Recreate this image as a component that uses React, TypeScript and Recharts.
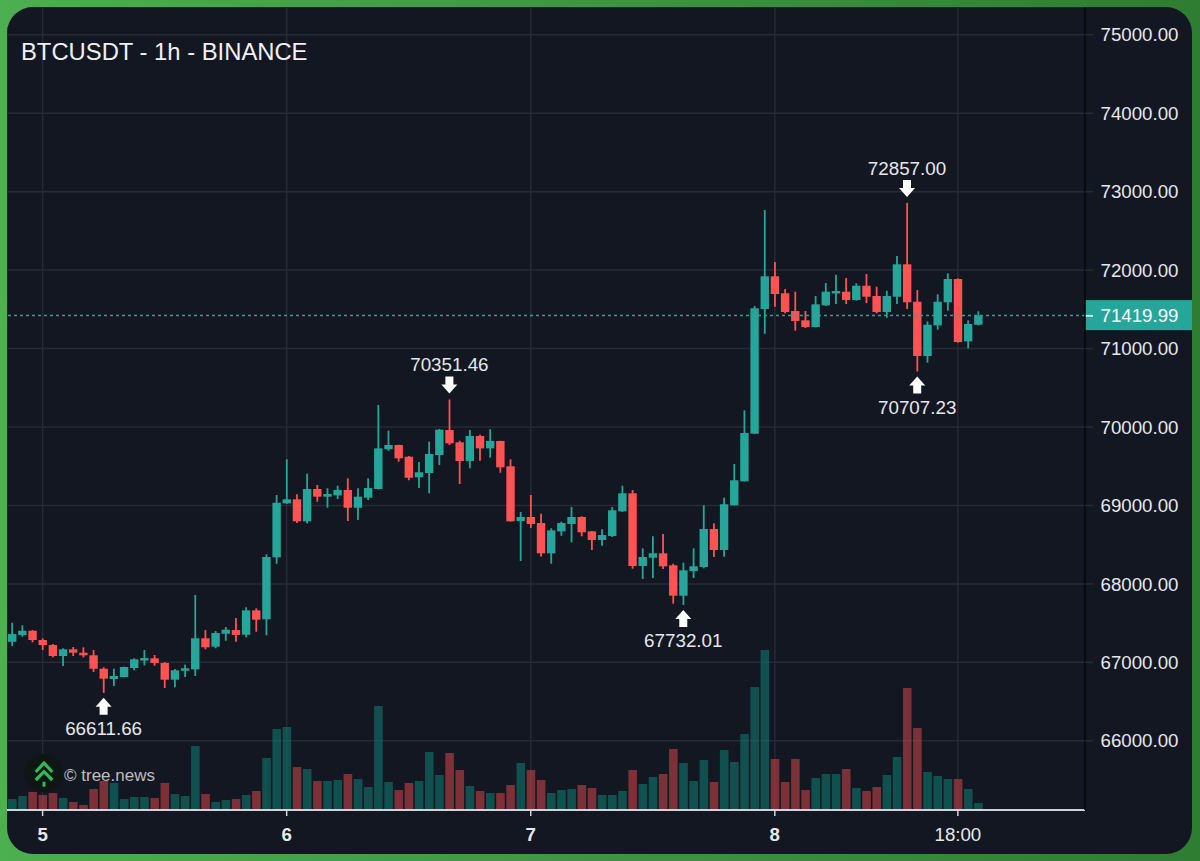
import { Bar, CartesianGrid, Cell, ComposedChart, ReferenceDot, ReferenceLine, XAxis, YAxis } from 'recharts';

const FONT = '"Liberation Sans", Arial, sans-serif';
const UP = '#26a69a';
const DOWN = '#ff5252';
const GRID = '#272b36';
const TEXT = '#e6e8ec';

const opens = [
  67263, 67349, 67403, 67285, 67221, 67081, 67166, 67123, 67090, 66919, 66788, 66813, 66928, 67026, 67052, 66992,
  66779, 66893, 66911, 67307, 67200, 67365, 67412, 67352, 67663, 67549, 68339, 69027, 69078, 68798, 69210, 69112,
  69129, 69197, 68971, 69099, 69210, 69716, 69771, 69621, 69359, 69414, 69643, 69962, 69805, 69567, 69885, 69728,
  69822, 69499, 68802, 68853, 68776, 68390, 68670, 68764, 68853, 68670, 68560, 68611, 68925, 69155, 68228, 68334,
  68390, 68237, 67850, 68164, 68215, 68700, 68432, 69002, 69308, 69915, 71504, 71921, 71704, 71479, 71360, 71275,
  71551, 71721, 71725, 71619, 71801, 71670, 71466, 71661, 72074, 71597, 70905, 71296, 71590, 71887, 71092, 71304,
];
const highs = [
  67505, 67472, 67412, 67306, 67234, 67179, 67196, 67192, 67157, 66937, 66919, 66945, 67052, 67157, 67094, 67004,
  66915, 66970, 67859, 67412, 67400, 67451, 67565, 67702, 67689, 68377, 69133, 69588, 69142, 69405, 69261, 69219,
  69252, 69346, 69219, 69346, 70280, 69953, 69775, 69630, 69554, 69813, 69975, 70351.46, 69825, 69962, 69902, 69971,
  69825, 69588, 68917, 69133, 68895, 68709, 68793, 68980, 68862, 68675, 68696, 68980, 69252, 69197, 68454, 68607,
  68636, 68257, 68270, 68454, 69002, 68772, 69099, 69528, 70213, 71542, 72766, 72103, 71759, 71725, 71479, 71670,
  71836, 71941, 71899, 71832, 71950, 71788, 71737, 72180, 72857, 71746, 71347, 71692, 71959, 71895, 71360, 71475,
];
const lows = [
  67208, 67327, 67256, 67157, 67064, 66953, 67081, 67064, 66877, 66611.66, 66699, 66810, 66899, 66962, 66957, 66673,
  66682, 66813, 66826, 67166, 67179, 67276, 67263, 67319, 67391, 67345, 68257, 69020, 68776, 68772, 69048, 68971,
  69082, 68802, 68815, 69069, 69205, 69698, 69558, 69321, 69222, 69155, 69516, 69771, 69273, 69474, 69570, 69609,
  69417, 68795, 68292, 68713, 68347, 68257, 68614, 68530, 68607, 68432, 68487, 68598, 68917, 68194, 68062, 68075,
  68190, 67748, 67732.01, 68075, 68199, 68343, 68347, 69000, 69305, 69910, 71189, 71533, 71449, 71228, 71262, 71270,
  71542, 71568, 71568, 71610, 71581, 71449, 71393, 71568, 71504, 70707.23, 70820, 71240, 71483, 71075, 71003, 71296,
];
const closes = [
  67361, 67403, 67285, 67221, 67081, 67166, 67123, 67090, 66919, 66792, 66826, 66941, 67039, 67055, 66992, 66779,
  66899, 66924, 67307, 67192, 67374, 67416, 67349, 67663, 67544, 68343, 69035, 69078, 68798, 69210, 69112, 69146,
  69197, 68971, 69112, 69222, 69728, 69771, 69601, 69354, 69423, 69656, 69966, 69792, 69567, 69885, 69728, 69822,
  69486, 68798, 68853, 68764, 68390, 68683, 68776, 68853, 68658, 68560, 68623, 68938, 69155, 68228, 68343, 68390,
  68224, 67850, 68173, 68224, 68700, 68432, 69015, 69321, 69924, 71513, 71921, 71695, 71466, 71351, 71275, 71564,
  71725, 71734, 71619, 71801, 71661, 71466, 71670, 72074, 71590, 70905, 71304, 71597, 71887, 71083, 71313, 71419.99,
];
const volumes = [
  11, 14, 18, 15, 17, 12, 8, 5, 21, 29, 27, 11, 13, 13, 12, 27,
  16, 14, 64, 16, 8, 10, 11, 15, 19, 52, 81, 83, 43, 41, 29, 29,
  30, 36, 31, 23, 104, 28, 20, 27, 29, 58, 35, 57, 40, 24, 19, 17,
  17, 25, 47, 40, 30, 17, 20, 21, 25, 22, 15, 15, 19, 40, 26, 33,
  36, 61, 47, 29, 50, 28, 60, 48, 76, 123, 160, 51, 28, 51, 20, 32,
  36, 36, 41, 22, 19, 23, 35, 53, 122, 82, 38, 34, 31, 31, 21, 7,
];

const priceTicks = [66000, 67000, 68000, 69000, 70000, 71000, 72000, 73000, 74000, 75000];
const timeTickSlots = [3, 27, 51, 75, 93];
const timeTickLabels = ['5', '6', '7', '8', '18:00'];
const emptySlots = 10;
const lastPrice = 71419.99;

const highMarks = [43, 88];
const lowMarks = [9, 66, 89];

const rows = [...opens, ...new Array(emptySlots).fill(null)].map((open, i) =>
  open === null
    ? { slot: i }
    : {
        slot: i,
        open,
        close: closes[i],
        high: highs[i],
        low: lows[i],
        range: [lows[i], highs[i]],
        volume: volumes[i],
      }
);

function Candle(props: any) {
  const { x, y, width, height, payload } = props;
  if (payload.range === undefined) return null;
  const top = Math.min(y, y + height);
  const span = Math.abs(height);
  const priceToY = (p: number) => top + ((payload.high - p) / (payload.high - payload.low)) * span;
  const up = payload.close >= payload.open;
  const bodyTop = priceToY(Math.max(payload.open, payload.close));
  const bodyBottom = priceToY(Math.min(payload.open, payload.close));
  const color = up ? UP : DOWN;
  return (
    <g>
      <rect x={x + width / 2 - 0.9} y={top} width={1.8} height={span} fill={color} />
      <rect x={x} y={bodyTop} width={width} height={Math.max(bodyBottom - bodyTop, 2.5)} fill={color} />
    </g>
  );
}

function Arrow({ cx, tip, down }: { cx: number; tip: number; down: boolean }) {
  const s = down ? -1 : 1;
  const d = [
    [cx, tip],
    [cx + 8, tip + s * 9],
    [cx + 4, tip + s * 9],
    [cx + 4, tip + s * 17],
    [cx - 4, tip + s * 17],
    [cx - 4, tip + s * 9],
    [cx - 8, tip + s * 9],
  ]
    .map((p) => p.join(','))
    .join(' ');
  return <polygon points={d} fill="#ffffff" />;
}

function HighMark({ cx, cy, value }: any) {
  return (
    <g>
      <Arrow cx={cx} tip={cy - 6} down />
      <text x={cx} y={cy - 28} textAnchor="middle" fontSize={18.8} fontFamily={FONT} fill={TEXT}>
        {value.toFixed(2)}
      </text>
    </g>
  );
}

function LowMark({ cx, cy, value }: any) {
  return (
    <g>
      <Arrow cx={cx} tip={cy + 5} down={false} />
      <text x={cx} y={cy + 42} textAnchor="middle" fontSize={18.8} fontFamily={FONT} fill={TEXT}>
        {value.toFixed(2)}
      </text>
    </g>
  );
}

function LastPriceLabel({ viewBox }: any) {
  const right = viewBox.x + viewBox.width;
  return (
    <g>
      <rect x={right} y={viewBox.y - 15.5} width={107} height={30} fill={UP} />
      <rect x={right} y={viewBox.y - 0.5} width={8} height={1.5} fill="#ffffff" />
      <text x={right + 15.5} y={viewBox.y + 6.5} fontSize={18.7} fontFamily={FONT} fill="#ffffff">
        {lastPrice.toFixed(2)}
      </text>
    </g>
  );
}

function TimeTick({ x, y, payload }: any) {
  const label = timeTickLabels[timeTickSlots.indexOf(payload.value)];
  return (
    <text
      x={x}
      y={y + 23}
      textAnchor="middle"
      fontSize={18.7}
      fontWeight={label.includes(':') ? 400 : 700}
      fontFamily={FONT}
      fill={TEXT}
    >
      {label}
    </text>
  );
}

export default function App() {
  return (
    <div
      style={{
        position: 'absolute',
        left: 0,
        top: 0,
        width: 1200,
        height: 861,
        overflow: 'hidden',
        background: 'linear-gradient(90deg, #4caf50 0%, #3f9443 50%, #2e7d32 100%)',
      }}
    >
      <div
        style={{
          position: 'absolute',
          left: 7,
          top: 7,
          width: 1185,
          height: 847,
          borderRadius: 26,
          overflow: 'hidden',
          background: '#131722',
        }}
      >
        <ComposedChart width={1185} height={847} data={rows} margin={{ top: 0, right: 0, bottom: 0, left: 0 }}>
          <CartesianGrid xAxisId="time" yAxisId="price" stroke={GRID} strokeWidth={1.5} />
          <XAxis
            xAxisId="time"
            dataKey="slot"
            type="category"
            height={44}
            ticks={timeTickSlots}
            interval={0}
            tick={<TimeTick />}
            tickSize={6}
            tickLine={{ stroke: '#d1d4dc', strokeWidth: 1.5 }}
            axisLine={{ stroke: '#d1d4dc', strokeWidth: 2 }}
          />
          <XAxis xAxisId="volumeTime" dataKey="slot" type="category" hide />
          <YAxis
            yAxisId="price"
            orientation="right"
            width={107}
            domain={[65118, 75354]}
            allowDataOverflow
            ticks={priceTicks}
            interval={0}
            tickFormatter={(v: number) => v.toFixed(2)}
            tick={{ fill: TEXT, fontSize: 18.7, fontFamily: FONT }}
            tickSize={8}
            tickMargin={7.5}
            tickLine={{ stroke: GRID, strokeWidth: 1.5 }}
            axisLine={{ stroke: '#000000', strokeWidth: 1.5 }}
          />
          <YAxis yAxisId="volume" hide domain={[0, 803]} allowDataOverflow />
          <Bar xAxisId="volumeTime" yAxisId="volume" dataKey="volume" barSize={8.6} isAnimationActive={false}>
            {rows.map((row: any) => (
              <Cell key={row.slot} fill={row.close >= row.open ? 'rgba(16,110,104,0.65)' : 'rgba(182,62,68,0.65)'} />
            ))}
          </Bar>
          <Bar xAxisId="time" yAxisId="price" dataKey="range" barSize={8.4} shape={<Candle />} isAnimationActive={false} />
          <ReferenceLine
            xAxisId="time"
            yAxisId="price"
            y={lastPrice}
            stroke={UP}
            strokeDasharray="3 3"
            strokeWidth={1.5}
            label={<LastPriceLabel />}
          />
          {highMarks.map((slot) => (
            <ReferenceDot
              key={slot}
              xAxisId="time"
              yAxisId="price"
              x={slot}
              y={highs[slot]}
              shape={<HighMark value={highs[slot]} />}
            />
          ))}
          {lowMarks.map((slot) => (
            <ReferenceDot
              key={slot}
              xAxisId="time"
              yAxisId="price"
              x={slot}
              y={lows[slot]}
              shape={<LowMark value={lows[slot]} />}
            />
          ))}
        </ComposedChart>
      </div>
      <div
        style={{
          position: 'absolute',
          left: 21,
          top: 38,
          fontFamily: FONT,
          fontSize: 23.8,
          lineHeight: '27px',
          color: '#f0f1f3',
          whiteSpace: 'nowrap',
        }}
      >
        BTCUSDT - 1h - BINANCE
      </div>
      <svg width={40} height={40} viewBox="0 0 40 40" style={{ position: 'absolute', left: 24, top: 753 }}>
        <circle cx={20} cy={20} r={19.5} fill="#0e1713" />
        <path d="M11.7 19 L20 10 L28.3 19" fill="none" stroke="#2fbb55" strokeWidth={3.2} />
        <path d="M11.7 27 L20 18.7 L28.3 27" fill="none" stroke="#2fbb55" strokeWidth={3.2} />
        <rect x={18.5} y={28.7} width={3} height={5} fill="#2fbb55" />
      </svg>
      <div
        style={{
          position: 'absolute',
          left: 64,
          top: 766,
          fontFamily: FONT,
          fontSize: 17,
          lineHeight: '19px',
          color: 'rgba(255,255,255,0.72)',
          whiteSpace: 'nowrap',
        }}
      >
        © tree.news
      </div>
    </div>
  );
}
